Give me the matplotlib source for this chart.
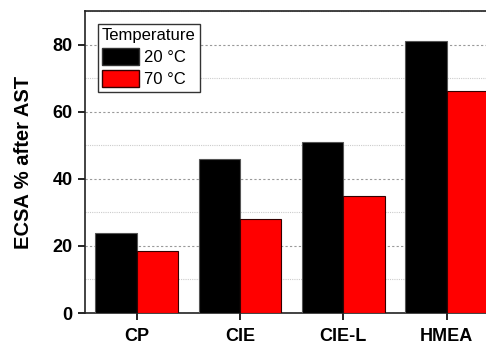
import numpy as np
import matplotlib
matplotlib.use("Agg")
import matplotlib.pyplot as plt
from matplotlib.patches import Patch
from matplotlib.ticker import MultipleLocator

plt.rcParams["font.family"] = ["Liberation Sans", "DejaVu Sans"]

# ----------
#  DATA
# ----------
categories = ["CP", "CIE", "CIE-L", "HMEA"]
ecsa_20c = [23.7, 45.8, 50.9, 81.2]
ecsa_70c = [18.5, 27.9, 34.8, 66.3]
series_labels = ["20 \u00b0C", "70 \u00b0C"]

bar_w = 0.4

fig = plt.figure(figsize=(4.86, 3.45), dpi=100)
# axes runs past the right edge on purpose (source image is cropped)
ax = fig.add_axes([85 / 486, 1 - 313 / 345, (498.4 - 85) / 486, (313 - 11) / 345])

x = np.arange(len(categories))
ax.bar(x - bar_w / 2, ecsa_20c, width=bar_w, color="black",
       edgecolor="#555555", linewidth=0.8, zorder=3)
ax.bar(x + bar_w / 2, ecsa_70c, width=bar_w, color="#ff0000",
       edgecolor="#330000", linewidth=0.8, zorder=3)

ax.set_xlim(-0.5, len(categories) - 0.5)
ax.set_ylim(0, 90)
ax.set_xticks(x)
ax.set_xticklabels(categories, fontsize=13, fontweight="bold")
ax.yaxis.set_major_locator(MultipleLocator(20))
ax.yaxis.set_minor_locator(MultipleLocator(10))
for lab in ax.get_yticklabels():
    lab.set_fontweight("bold")
ax.tick_params(axis="y", which="major", labelsize=13, length=5, width=1.2, direction="out", pad=4)
ax.tick_params(axis="y", which="minor", length=0)
ax.tick_params(axis="x", length=5, width=1.2, direction="out", pad=6)

ax.grid(axis="y", which="major", linestyle=(0, (2, 2)), color="#999999", linewidth=0.8, zorder=0)
ax.grid(axis="y", which="minor", linestyle=(0, (1, 1)), color="#cccccc", linewidth=0.8, zorder=0)
ax.set_axisbelow(True)

for s in ax.spines.values():
    s.set_linewidth(1.2)
    s.set_color("#222222")

ax.set_ylabel("ECSA % after AST", fontsize=14.5, fontweight="bold", labelpad=14)

handles = [Patch(facecolor="black", edgecolor="#333333"),
           Patch(facecolor="#ff0000", edgecolor="#330000")]
leg = ax.legend(handles, series_labels, title="Temperature", loc="upper left",
                bbox_to_anchor=(0.031, 0.957), fontsize=12, title_fontsize=12,
                handlelength=2.2, handleheight=1.2, handletextpad=0.3,
                labelspacing=0.3, borderpad=0.25, borderaxespad=0,
                fancybox=False, framealpha=1, edgecolor="#333333")
leg._legend_box.align = "left"
leg.get_frame().set_linewidth(1.0)

fig.savefig("out.png", dpi=100)
